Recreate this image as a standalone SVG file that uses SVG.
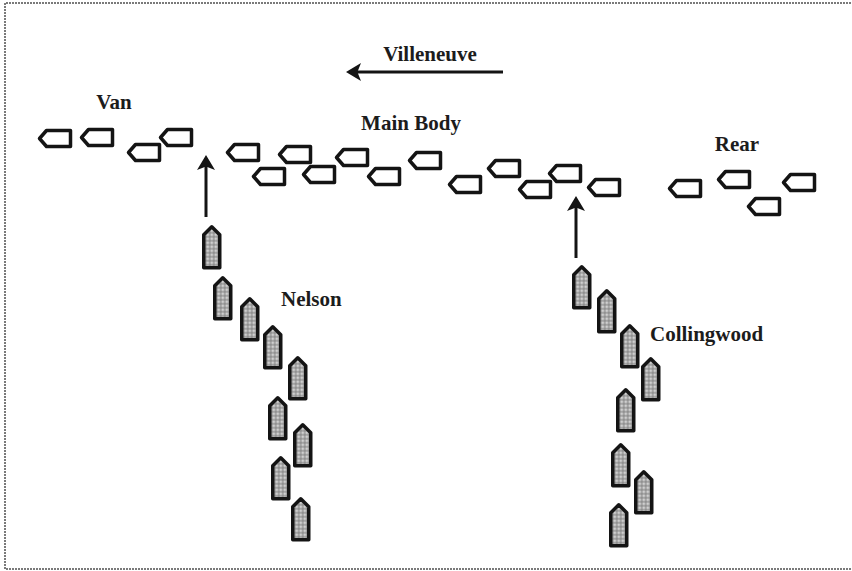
<svg xmlns="http://www.w3.org/2000/svg" width="852" height="571" viewBox="0 0 852 571">
<style>
  .lbl { font-family: "Liberation Serif", "Times New Roman", serif; font-weight: bold; font-size: 21px; fill: #1c1c1c; }
  .fr { fill: #ffffff; stroke: #141414; stroke-width: 3.5; stroke-linejoin: round; }
  .br { fill: url(#grain); stroke: #141414; stroke-width: 3.5; stroke-linejoin: round; }
  .arrow { stroke: #141414; stroke-width: 3; fill: none; }
  .frame { fill: none; stroke: #7a7a7a; stroke-width: 2; stroke-dasharray: 2 1; }
</style>
<defs>
  <pattern id="grain" width="4" height="4" patternUnits="userSpaceOnUse">
    <rect width="4" height="4" fill="#cfcfcf"/>
    <path d="M0,2 H4 M2,0 V4" stroke="#7a7a7a" stroke-width="1"/>
  </pattern>
  <path id="fship" d="M0,8 L7,0 L31,0 L31,16 L7,16 Z"/>
  <path id="bship" d="M8,0 L16,8 L16,41 L0,41 L0,8 Z"/>
  <marker id="head" markerWidth="6" markerHeight="6" refX="4" refY="3" orient="auto" markerUnits="strokeWidth">
    <path d="M0,0 L5,3 L0,6 L1.2,3 Z" fill="#141414"/>
  </marker>
</defs>
<rect width="852" height="571" fill="#ffffff"/>
<path class="frame" d="M851,3 H5 V569 H851"/>

<g id="connectors">
  <line class="arrow" x1="503" y1="72" x2="349" y2="72" marker-end="url(#head)"/>
  <line class="arrow" x1="206" y1="217" x2="206" y2="158" marker-end="url(#head)"/>
  <line class="arrow" x1="576" y1="258" x2="576" y2="199" marker-end="url(#head)"/>
</g>

<g id="labels">
  <text class="lbl" x="430" y="61" text-anchor="middle">Villeneuve</text>
  <text class="lbl" x="114" y="109" text-anchor="middle">Van</text>
  <text class="lbl" x="411" y="130" text-anchor="middle">Main Body</text>
  <text class="lbl" x="737" y="151" text-anchor="middle">Rear</text>
  <text class="lbl" x="281" y="306">Nelson</text>
  <text class="lbl" x="650" y="341">Collingwood</text>
</g>

<g id="van">
  <use href="#fship" class="fr" x="39.5" y="130.5"/>
  <use href="#fship" class="fr" x="81.5" y="129.5"/>
  <use href="#fship" class="fr" x="128.5" y="144.5"/>
  <use href="#fship" class="fr" x="160.5" y="129.5"/>
</g>

<g id="main-body">
  <use href="#fship" class="fr" x="227.5" y="144.5"/>
  <use href="#fship" class="fr" x="253.5" y="168.5"/>
  <use href="#fship" class="fr" x="279.5" y="146.5"/>
  <use href="#fship" class="fr" x="303.5" y="166.5"/>
  <use href="#fship" class="fr" x="336.5" y="149.5"/>
  <use href="#fship" class="fr" x="368.5" y="168.5"/>
  <use href="#fship" class="fr" x="409.5" y="152.5"/>
  <use href="#fship" class="fr" x="449.5" y="176.5"/>
  <use href="#fship" class="fr" x="488.5" y="160.5"/>
  <use href="#fship" class="fr" x="519.5" y="181.5"/>
  <use href="#fship" class="fr" x="549.5" y="165.5"/>
  <use href="#fship" class="fr" x="588.5" y="179.5"/>
</g>

<g id="rear">
  <use href="#fship" class="fr" x="669.5" y="180.5"/>
  <use href="#fship" class="fr" x="718.5" y="171.5"/>
  <use href="#fship" class="fr" x="748.5" y="198.5"/>
  <use href="#fship" class="fr" x="783.5" y="174.5"/>
</g>

<g id="nelson-column">
  <use href="#bship" class="br" x="203.75" y="226.75"/>
  <use href="#bship" class="br" x="214.75" y="277.75"/>
  <use href="#bship" class="br" x="241.75" y="298.75"/>
  <use href="#bship" class="br" x="264.75" y="326.75"/>
  <use href="#bship" class="br" x="289.75" y="357.75"/>
  <use href="#bship" class="br" x="269.75" y="397.75"/>
  <use href="#bship" class="br" x="294.75" y="424.75"/>
  <use href="#bship" class="br" x="272.75" y="457.75"/>
  <use href="#bship" class="br" x="292.75" y="498.75"/>
</g>

<g id="collingwood-column">
  <use href="#bship" class="br" x="573.75" y="266.75"/>
  <use href="#bship" class="br" x="598.75" y="290.75"/>
  <use href="#bship" class="br" x="621.75" y="325.75"/>
  <use href="#bship" class="br" x="642.75" y="358.75"/>
  <use href="#bship" class="br" x="617.75" y="389.75"/>
  <use href="#bship" class="br" x="612.75" y="444.75"/>
  <use href="#bship" class="br" x="635.75" y="471.75"/>
  <use href="#bship" class="br" x="610.75" y="504.75"/>
</g>
</svg>
